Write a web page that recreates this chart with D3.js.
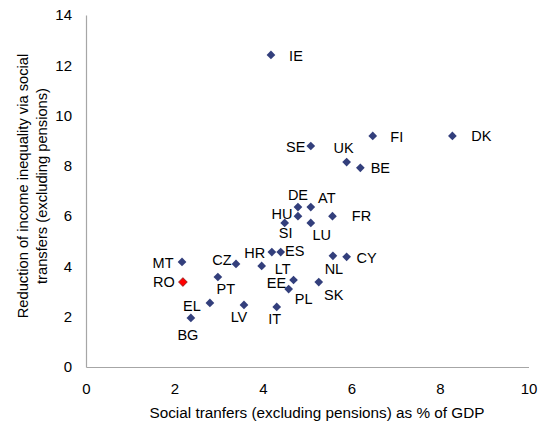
<!DOCTYPE html>
<html>
<head>
<meta charset="utf-8">
<script src="https://cdn.jsdelivr.net/npm/d3@7.9.0/dist/d3.min.js"></script>
<style>
  body { margin: 0; background: #fff; }
  svg text { font-family: "Liberation Sans", Arial, sans-serif; fill: #000; }
</style>
</head>
<body>
<svg id="chart" width="540" height="423"></svg>
<script>
// country codes, social transfers (% GDP), reduction of inequality
const countries = ['IE','SE','UK','FI','DK','BE','DE','AT','HU','FR','SI','LU','HR','ES',
  'MT','CZ','LT','NL','CY','RO','PT','EE','PL','SK','EL','LV','IT','BG'];
const transfers = [4.18, 5.08, 5.89, 6.48, 8.28, 6.2, 4.79, 5.08, 4.79, 5.57, 4.49, 5.08, 4.2, 4.4,
  2.17, 3.39, 3.97, 5.58, 5.89, 2.19, 2.98, 4.69, 4.58, 5.26, 2.8, 3.57, 4.31, 2.37];
const reduction = [12.41, 8.79, 8.15, 9.19, 9.19, 7.92, 6.36, 6.36, 6.0, 6.0, 5.73, 5.73, 4.57, 4.57,
  4.18, 4.1, 4.02, 4.42, 4.38, 3.38, 3.58, 3.46, 3.1, 3.38, 2.55, 2.47, 2.39, 1.95];
const highlight = 'RO';
const xTicks = [0, 2, 4, 6, 8, 10];
const yTicks = [0, 2, 4, 6, 8, 10, 12, 14];

// label offsets (text centre relative to marker), as placed in the original
const labelOffset = {
  IE: [25, 1], SE: [-15, 1], UK: [-3, -14], FI: [24, 1], DK: [29, 0], BE: [20, 0],
  DE: [0, -12], AT: [16, -9], HU: [-16, -2], FR: [29, 0], SI: [1, 10], LU: [11, 12],
  HR: [-17, 1], ES: [14, -1], MT: [-19, 1], CZ: [-14, -4], LT: [21, 3], NL: [1, 13],
  CY: [20, 1], RO: [-19, 0], PT: [8, 12], EE: [-17, 3], PL: [15, 10], SK: [15, 13],
  EL: [-18, 3], LV: [-5, 12], IT: [-2, 12], BG: [-3, 17]
};

const data = countries.map((c, i) => ({ code: c, x: transfers[i], y: reduction[i] }));

const svg = d3.select('#chart');
const x = d3.scaleLinear().domain([0, 10]).range([86, 528.5]);
const y = d3.scaleLinear().domain([0, 14]).range([367, 15]);

const axisColor = '#a6a6a6';
const font = '"Liberation Sans", Arial, sans-serif';

svg.append('g')
  .attr('transform', `translate(0,${y(0)})`)
  .call(d3.axisBottom(x).tickValues(xTicks).tickSize(0).tickPadding(16))
  .call(g => g.select('.domain').attr('stroke', axisColor).attr('stroke-width', 1.2))
  .call(g => g.selectAll('text').attr('font-size', 15).attr('font-family', font));

svg.append('g')
  .attr('transform', `translate(${x(0)},0)`)
  .call(d3.axisLeft(y).tickValues(yTicks).tickSize(0).tickPadding(14))
  .call(g => g.select('.domain').attr('stroke', axisColor).attr('stroke-width', 1.2))
  .call(g => g.selectAll('text').attr('font-size', 15).attr('font-family', font));

// axis titles
svg.append('text')
  .attr('x', 317).attr('y', 418)
  .attr('text-anchor', 'middle')
  .attr('font-size', 15.3)
  .text('Social tranfers (excluding pensions) as % of GDP');

const yTitle = svg.append('text')
  .attr('transform', 'translate(23,186) rotate(-90)')
  .attr('text-anchor', 'middle')
  .attr('font-size', 14.7);
yTitle.append('tspan').attr('x', 0).attr('dy', '0.35em').text('Reduction of income inequality via social');
yTitle.append('tspan').attr('x', 0).attr('dy', '1.3em').text('transfers (excluding pensions)');

// markers
const diamond = d3.symbol().type(d3.symbolSquare).size(38);
svg.append('g').selectAll('path')
  .data(data)
  .join('path')
  .attr('d', diamond)
  .attr('transform', d => `translate(${x(d.x)},${y(d.y)}) rotate(45)`)
  .attr('fill', d => d.code === highlight ? '#ff0000' : '#333f7c')
  .attr('stroke', d => d.code === highlight ? '#8b1a1a' : 'none')
  .attr('stroke-width', 0.8);

// labels
svg.append('g').selectAll('text')
  .data(data)
  .join('text')
  .attr('x', d => x(d.x) + labelOffset[d.code][0])
  .attr('y', d => y(d.y) + labelOffset[d.code][1])
  .attr('dy', '0.36em')
  .attr('text-anchor', 'middle')
  .attr('font-size', 14.5)
  .text(d => d.code);
</script>
</body>
</html>
